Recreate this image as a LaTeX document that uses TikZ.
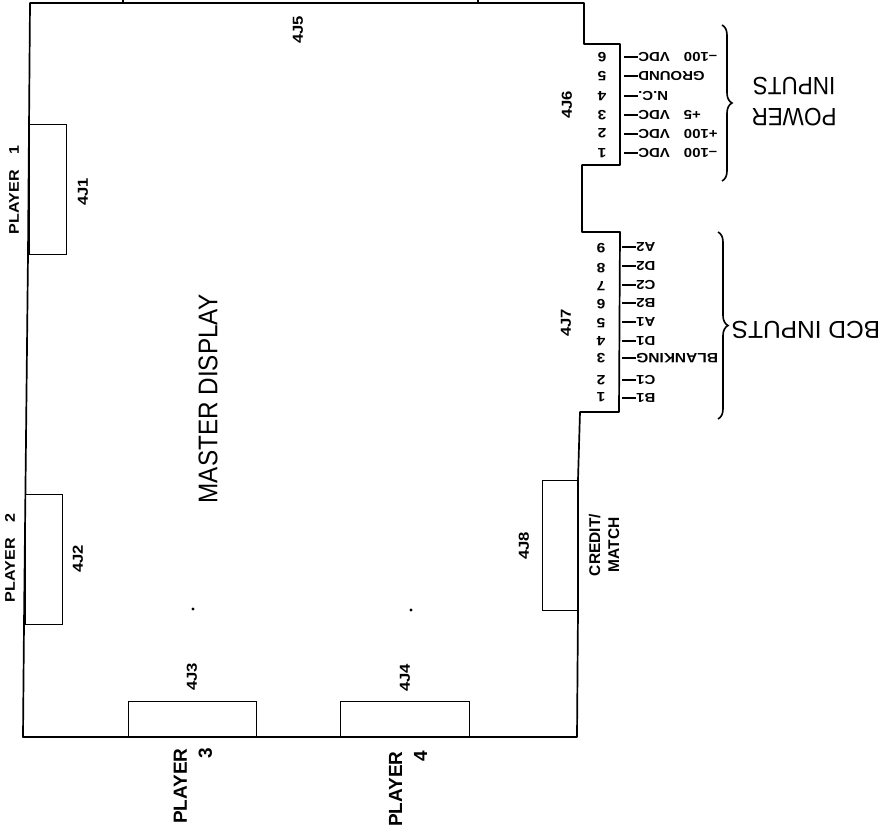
\documentclass[tikz,border=0pt]{standalone}
\usepackage{fontspec}
\setmainfont{Liberation Sans}
\newfontfamily\widefont[FakeStretch=1.15,WordSpace=3.4]{Liberation Sans}
\newfontfamily\narrowfont[FakeStretch=0.9]{Liberation Sans}
\usetikzlibrary{arrows.meta}
\usetikzlibrary{decorations.pathreplacing}

\begin{document}
\begin{tikzpicture}[
    x=1pt, y=-1pt,
    every node/.style={inner sep=0pt},
    outline/.style={line width=1.7pt, line join=round},
    jack/.style={rectangle, draw, line width=1.4pt, anchor=north west},
    jackname/.style={rotate=90, font=\widefont\fontsize{14.5}{16}\selectfont\bfseries},
    player/.style={rotate=90, font=\widefont\fontsize{14}{16}\selectfont\bfseries},
    playerlow/.style={rotate=90, align=right, font=\fontsize{19}{25}\selectfont\bfseries},
    pinnum/.style={rotate=180, font=\widefont\fontsize{13.5}{14}\selectfont\bfseries},
    pinname/.style={rotate=180, anchor=east, font=\widefont\fontsize{13}{14}\selectfont\bfseries},
    leader/.style={line width=1.5pt},
    curly/.style={line width=1.6pt, decorate, decoration={brace, amplitude=10pt}},
    heading/.style={rotate=180, align=center, font=\narrowfont\fontsize{25}{31}\selectfont}
]
\useasboundingbox (0,0) rectangle (886,836);

% Board
\draw[outline] (30,3) -- (584,3) -- (584,44) -- (620,44) -- (620,165) -- (582,165) -- (582,232)
    -- (620,232) -- (619,412) -- (580,412) -- (578,480) -- (578,610) -- (577,737) -- (23,737)
    -- (24,624) -- (28,254) -- cycle;
\coordinate (stubA) at (123,0);
\coordinate (stubB) at (123,3);
\coordinate (stubC) at (478,0);
\coordinate (stubD) at (478,3);
\draw[outline] (stubA) -- (stubB);
\draw[outline] (stubC) -- (stubD);

% Jacks
\node[jack, minimum width=37pt, minimum height=130pt] (box1) at (29,124) {};
\node[jack, minimum width=37pt, minimum height=130pt] (box2) at (25,494) {};
\node[jack, minimum width=128pt, minimum height=35pt] (box3) at (128,701) {};
\node[jack, minimum width=129pt, minimum height=35pt] (box4) at (340,701) {};
\node[jack, minimum width=36pt, minimum height=130pt] (box8) at (542,480) {};

% Jack names
\node[jackname] (name1) at (83,192) {4J1};
\node[jackname] (name2) at (78,559) {4J2};
\node[jackname] (name3) at (192,677) {4J3};
\node[jackname] (name4) at (405,678) {4J4};
\node[jackname] (name5) at (298,30) {4J5};
\node[jackname] (name6) at (567,105) {4J6};
\node[jackname] (name7) at (566,323) {4J7};
\node[jackname] (name8) at (524,546) {4J8};

% Players
\node[player] (player1) at (14,190) {PLAYER 1};
\node[player] (player2) at (10,558) {PLAYER 2};
\node[playerlow] (player3) at (193,786) {PLAYER\\3};
\node[playerlow] (player4) at (408,789) {PLAYER\\4};
\node[rotate=90, align=center, font=\fontsize{15.5}{19}\selectfont\bfseries] (credit) at (604,545) {CREDIT/\\MATCH};

% Title
\node[rotate=90, font=\narrowfont\fontsize{27}{30}\selectfont] (title) at (208,399) {MASTER DISPLAY};
\fill (193,609) circle (1.6pt);
\fill (411,610) circle (1.6pt);

% Power pins
\node[pinnum] (pa6) at (602,57) {6};
\node[pinnum] (pa5) at (602,76) {5};
\node[pinnum] (pa4) at (602,96) {4};
\node[pinnum] (pa3) at (602,115) {3};
\node[pinnum] (pa2) at (602,133) {2};
\node[pinnum] (pa1) at (602,153) {1};
\coordinate (ea6) at (624,57);
\coordinate (ea5) at (624,76);
\coordinate (ea4) at (624,96);
\coordinate (ea3) at (624,115);
\coordinate (ea2) at (624,134);
\coordinate (ea1) at (624,153);
\node[pinname] (na6) at (638,57) {–100 VDC};
\node[pinname] (na5) at (638,76) {GROUND};
\node[pinname] (na4) at (638,96) {N.C.};
\node[pinname] (na3) at (638,115) {+5 VDC};
\node[pinname] (na2) at (638,134) {+100 VDC};
\node[pinname] (na1) at (638,153) {–100 VDC};
\draw[leader] (ea6) -- (na6.east);
\draw[leader] (ea5) -- (na5.east);
\draw[leader] (ea4) -- (na4.east);
\draw[leader] (ea3) -- (na3.east);
\draw[leader] (ea2) -- (na2.east);
\draw[leader] (ea1) -- (na1.east);

% BCD pins
\node[pinnum] (pb9) at (601,248) {9};
\node[pinnum] (pb8) at (601,268) {8};
\node[pinnum] (pb7) at (601,286) {7};
\node[pinnum] (pb6) at (601,304) {6};
\node[pinnum] (pb5) at (601,323) {5};
\node[pinnum] (pb4) at (601,341) {4};
\node[pinnum] (pb3) at (601,358) {3};
\node[pinnum] (pb2) at (601,380) {2};
\node[pinnum] (pb1) at (601,397) {1};
\coordinate (eb9) at (622,247);
\coordinate (eb8) at (622,266);
\coordinate (eb7) at (622,285);
\coordinate (eb6) at (622,303);
\coordinate (eb5) at (622,322);
\coordinate (eb4) at (622,341);
\coordinate (eb3) at (622,358);
\coordinate (eb2) at (622,380);
\coordinate (eb1) at (622,398);
\node[pinname] (nb9) at (636,247) {A2};
\node[pinname] (nb8) at (636,266) {D2};
\node[pinname] (nb7) at (636,285) {C2};
\node[pinname] (nb6) at (636,303) {B2};
\node[pinname] (nb5) at (636,322) {A1};
\node[pinname] (nb4) at (636,341) {D1};
\node[pinname, font=\widefont\fontsize{13.5}{14}\selectfont\bfseries] (nb3) at (636,358) {BLANKING};
\node[pinname] (nb2) at (636,380) {C1};
\node[pinname] (nb1) at (636,398) {B1};
\draw[leader] (eb9) -- (nb9.east);
\draw[leader] (eb8) -- (nb8.east);
\draw[leader] (eb7) -- (nb7.east);
\draw[leader] (eb6) -- (nb6.east);
\draw[leader] (eb5) -- (nb5.east);
\draw[leader] (eb4) -- (nb4.east);
\draw[leader] (eb3) -- (nb3.east);
\draw[leader] (eb2) -- (nb2.east);
\draw[leader] (eb1) -- (nb1.east);

% Braces
\coordinate (powerTop) at (722,25);
\coordinate (powerBot) at (722,181);
\coordinate (bcdTop) at (718,232);
\coordinate (bcdBot) at (718,419);
\draw[curly] (powerTop) -- (powerBot);
\draw[curly] (bcdTop) -- (bcdBot);
\node[heading] (power) at (794,102) {POWER\\INPUTS};
\node[rotate=180, font=\fontsize{24.5}{28}\selectfont] (bcd) at (806,330) {BCD INPUTS};

\end{tikzpicture}
\end{document}
